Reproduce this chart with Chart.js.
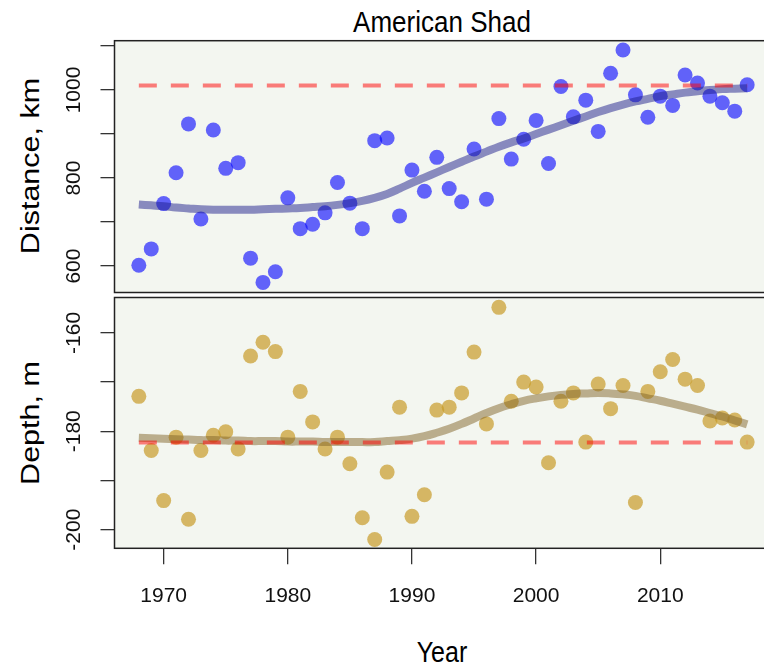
<!DOCTYPE html>
<html>
<head>
<meta charset="utf-8">
<title>American Shad</title>
<script src="https://cdn.jsdelivr.net/npm/chart.js@4.4.1/dist/chart.umd.min.js"></script>
<style>
    html, body { margin: 0; padding: 0; background: #fff; overflow: hidden; }
    body { width: 764px; height: 671px; position: relative; font-family: "Liberation Sans", Arial, sans-serif; }
    canvas { position: absolute; left: 0; }
    .lbl { position: absolute; color: #000; white-space: nowrap; font-size: 26px; line-height: 1; transform: translate(-50%, -50%) scaleY(1.15); }
    .rot { font-size: 25px; transform: translate(-50%, -50%) rotate(-90deg) scaleX(1.22); }
</style>
</head>
<body>
<div class="lbl" style="left:442px; top:22px;">American Shad</div>
<div class="lbl rot" style="left:30px; top:166px;">Distance, km</div>
<div class="lbl rot" style="left:30px; top:423px;">Depth, m</div>
<div class="lbl" style="left:442px; top:652px; font-size:25px;">Year</div>
<canvas id="topChart" width="800" height="300" style="top:0"></canvas>
<canvas id="bottomChart" width="800" height="381" style="top:290px"></canvas>
<script>
const years = [1968, 1969, 1970, 1971, 1972, 1973, 1974, 1975, 1976, 1977,
    1978, 1979, 1980, 1981, 1982, 1983, 1984, 1985, 1986, 1987,
    1988, 1989, 1990, 1991, 1992, 1993, 1994, 1995, 1996, 1997,
    1998, 1999, 2000, 2001, 2002, 2003, 2004, 2005, 2006, 2007,
    2008, 2009, 2010, 2011, 2012, 2013, 2014, 2015, 2016, 2017];

// distance, km (top panel)
const distance = [602, 639, 742, 812, 923, 707, 909, 822, 835, 618,
    563, 587, 755, 685, 695, 721, 790, 743, 685, 885,
    891, 714, 818, 770, 847, 776, 746, 866, 752, 935,
    843, 888, 931, 833, 1008, 939, 977, 906, 1038, 1091,
    989, 938, 986, 965, 1034, 1016, 986, 971, 952, 1012];
const distanceSmooth = [740, 738, 736, 733, 731, 729, 728, 728, 728, 728,
    729, 730, 731, 732, 734, 736, 739, 743, 748, 755,
    764, 776, 789, 801, 813, 825, 837, 849, 860, 871,
    881, 890, 900, 910, 920, 930, 940, 950, 959, 967,
    974, 980, 986, 990, 994, 997, 1000, 1002, 1003, 1004];
const distanceRef = 1010;

// depth, m (bottom panel)
const depth = [-172.9, -183.9, -194.1, -181.2, -197.9, -183.9, -180.8, -180.1, -183.6, -164.7,
    -161.9, -163.8, -181.2, -171.9, -178.1, -183.6, -181.2, -186.6, -197.6, -202.0,
    -188.3, -175.1, -197.3, -192.9, -175.7, -175.1, -172.2, -163.9, -178.5, -154.8,
    -173.9, -170.0, -171.0, -186.4, -173.9, -172.2, -182.2, -170.4, -175.4, -170.7,
    -194.5, -171.9, -167.9, -165.4, -169.4, -170.7, -177.9, -177.3, -177.7, -182.2];
const depthSmooth = [-181.3, -181.4, -181.5, -181.6, -181.7, -181.8, -181.8, -181.9, -181.9, -182.0,
    -182.0, -182.0, -182.1, -182.1, -182.1, -182.2, -182.2, -182.2, -182.2, -182.2,
    -182.0, -181.8, -181.5, -181.0, -180.3, -179.5, -178.5, -177.4, -176.3, -175.3,
    -174.5, -173.8, -173.3, -172.9, -172.6, -172.4, -172.3, -172.2, -172.3, -172.5,
    -172.8, -173.3, -173.8, -174.4, -175.0, -175.6, -176.3, -177.0, -177.8, -178.6];
const depthRef = -182.3;

// axes
const xTicks = [1970, 1980, 1990, 2000, 2010];
const xMin = 1966.04, xMax = 2018.96;
const distanceTicks = [600, 700, 800, 900, 1000, 1100];
const distanceLabels = [600, 800, 1000];
const distanceMin = 540, distanceMax = 1112;
const depthTicks = [-200, -190, -180, -170, -160];
const depthLabels = [-200, -180, -160];
const depthMin = -203.8, depthMax = -152.8;

const FONT = '"Liberation Sans", Arial, sans-serif';

// plot background and frame
const panelPlugin = {
    id: 'panel',
    beforeDraw(chart) {
        const a = chart.chartArea, ctx = chart.ctx;
        ctx.save();
        ctx.fillStyle = '#f3f6f0';
        ctx.fillRect(a.left, a.top, a.right - a.left, a.bottom - a.top);
        ctx.restore();
    },
    afterDraw(chart) {
        const a = chart.chartArea, ctx = chart.ctx;
        ctx.save();
        ctx.strokeStyle = '#222';
        ctx.lineWidth = 1.5;
        ctx.strokeRect(a.left, a.top, a.right - a.left, a.bottom - a.top);
        ctx.restore();
    }
};

function toPoints(values) {
    return years.map((y, i) => ({ x: y, y: values[i] }));
}

function refLine(value) {
    return [{ x: years[0], y: value }, { x: years[years.length - 1], y: value }];
}

// keep the plot box where the layout padding puts it
function noEdgePadding(s) {
    s.paddingTop = 0;
    s.paddingBottom = 0;
    s.paddingLeft = 0;
    s.paddingRight = 0;
}

function xScale(show) {
    return {
        type: 'linear',
        min: xMin,
        max: xMax,
        display: show,
        afterBuildTicks: s => { s.ticks = xTicks.map(v => ({ value: v })); },
        grid: { drawOnChartArea: false, tickLength: 16, color: '#333', lineWidth: 1.3 },
        border: { display: false },
        ticks: {
            color: '#111', padding: 19, maxRotation: 0, autoSkip: false,
            font: { size: 21, family: FONT },
            callback: v => String(v)
        },
        afterFit: s => {
            noEdgePadding(s);
            if (show) s.height = 122.7;
        }
    };
}

function yScale(min, max, tickList, labelList, pad) {
    return {
        type: 'linear',
        min: min,
        max: max,
        afterBuildTicks: s => { s.ticks = tickList.map(v => ({ value: v })); },
        grid: { drawOnChartArea: false, tickLength: 14, color: '#333', lineWidth: 1.3 },
        border: { display: false },
        ticks: {
            color: '#111', padding: pad, autoSkip: false,
            minRotation: 90, maxRotation: 90, crossAlign: 'center',
            font: { size: 21, family: FONT },
            callback: v => labelList.includes(v) ? String(v) : ''
        },
        afterFit: s => {
            noEdgePadding(s);
            s.width = 114.5;
        }
    };
}

function makeChart(id, values, smooth, ref, colors, y, padding, showX) {
    return new Chart(document.getElementById(id), {
        type: 'scatter',
        data: {
            datasets: [
                {
                    data: refLine(ref), showLine: true, pointRadius: 0,
                    borderColor: 'rgba(255, 0, 0, 0.5)', borderWidth: 4, borderDash: [18, 14],
                    order: 0
                },
                {
                    data: toPoints(smooth), showLine: true, pointRadius: 0, tension: 0.4,
                    borderColor: colors.line, borderWidth: 8,
                    order: 1
                },
                {
                    data: toPoints(values), pointRadius: 7.5, borderWidth: 0,
                    backgroundColor: colors.point,
                    order: 2
                }
            ]
        },
        options: {
            responsive: false,
            animation: false,
            layout: { padding: padding },
            plugins: { legend: { display: false }, tooltip: { enabled: false } },
            scales: { x: xScale(showX), y: y }
        },
        plugins: [panelPlugin]
    });
}

makeChart('topChart', distance, distanceSmooth, distanceRef,
    { point: 'rgba(0, 0, 255, 0.6)', line: 'rgba(30, 30, 140, 0.5)' },
    yScale(distanceMin, distanceMax, distanceTicks, distanceLabels, 3),
    { top: 40.7, bottom: 5.5, left: 0, right: 28.5 }, false);

makeChart('bottomChart', depth, depthSmooth, depthRef,
    { point: 'rgba(200, 155, 40, 0.7)', line: 'rgba(130, 100, 40, 0.5)' },
    yScale(depthMin, depthMax, depthTicks, depthLabels, 5),
    { top: 4.5, bottom: 0, left: 0, right: 28.5 }, true);
</script>
</body>
</html>
